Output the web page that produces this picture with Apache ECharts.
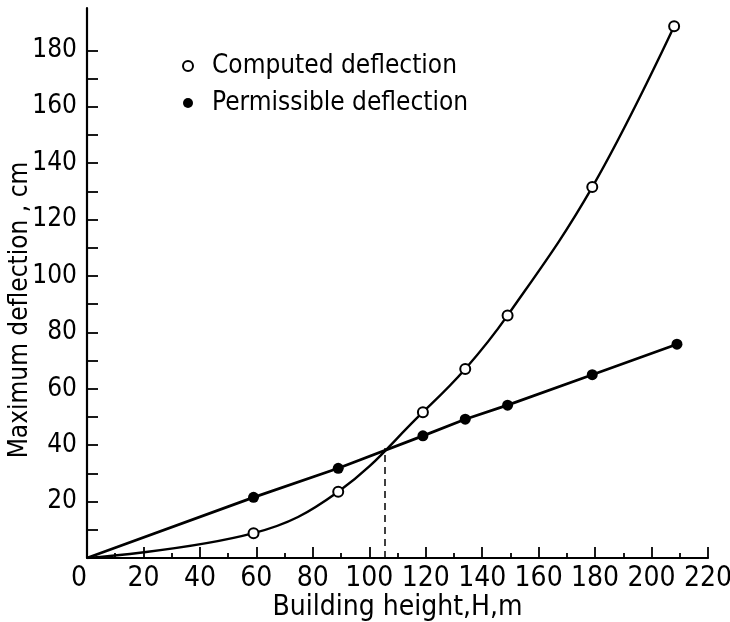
<!DOCTYPE html>
<html>
<head>
<meta charset="utf-8">
<script src="https://cdn.jsdelivr.net/npm/echarts@6/dist/echarts.min.js"></script>
<style>
html,body{margin:0;padding:0;background:#fff;}
#c{width:730px;height:622px;}
</style>
</head>
<body>
<div id="c"></div>
<script>
// Data
const computedX = [0, 59, 89, 119, 134, 149, 179, 208];
const computedY = [0, 8.8, 23.5, 51.7, 67, 86, 131.5, 188.5];
const computedMarked = [false, true, true, true, true, true, true, true];
const permissibleX = [0, 59, 89, 119, 134, 149, 179, 209];
const permissibleY = [0, 21.5, 31.8, 43.3, 49.2, 54.2, 65, 75.8];
const permissibleMarked = [false, true, true, true, true, true, true, true];
const crossX = 105.5;
const crossY = 39;
const xLabels = [0, 20, 40, 60, 80, 100, 120, 140, 160, 180, 200, 220];
const yLabels = [20, 40, 60, 80, 100, 120, 140, 160, 180];
const yTicks = [10, 20, 30, 40, 50, 60, 70, 80, 90, 100, 110, 120, 130, 140, 150, 160, 170, 180];

const FONT = "'DejaVu Sans Condensed', 'Liberation Sans Narrow', 'DejaVu Sans', sans-serif";

function buildData(xs, ys, marked) {
  return xs.map((x, i) => marked[i] ? [x, ys[i]] : { value: [x, ys[i]], symbol: 'none' });
}

const chart = echarts.init(document.getElementById('c'), null, { renderer: 'canvas' });
chart.setOption({
  animation: false,
  backgroundColor: '#fff',
  grid: { left: 87, right: 22, top: 8, bottom: 64, containLabel: false, outerBoundsMode: 'none' },
  legend: {
    orient: 'vertical',
    left: 182,
    top: 52,
    padding: 0,
    itemWidth: 10,
    itemHeight: 10,
    itemGap: 9,
    textStyle: { fontFamily: FONT, fontSize: 26, color: '#000', lineHeight: 28, padding: [0, 0, 0, 14] },
    data: [
      { name: 'Computed deflection', icon: 'emptyCircle', itemStyle: { color: '#000', borderColor: '#000', borderWidth: 1.5 } },
      { name: 'Permissible deflection', icon: 'circle', itemStyle: { color: '#000' } }
    ]
  },
  xAxis: {
    type: 'value',
    min: 0, max: 220, interval: 20,
    name: 'Building height,H,m',
    nameLocation: 'middle',
    nameGap: 36,
    nameMoveOverlap: false,
    nameTextStyle: { fontFamily: FONT, fontSize: 28, color: '#000' },
    axisLine: { lineStyle: { color: '#000', width: 2.2 } },
    axisTick: { inside: true, length: 11, lineStyle: { color: '#000', width: 1.8 } },
    minorTick: { show: true, splitNumber: 2, length: 5, lineStyle: { color: '#000', width: 1.8 } },
    splitLine: { show: false },
    axisLabel: {
      fontFamily: FONT, fontSize: 28, color: '#000', margin: 7,
      customValues: xLabels,
      alignMinLabel: 'right'
    }
  },
  yAxis: {
    type: 'value',
    min: 0, max: 195,
    name: 'Maximum deflection , cm',
    nameLocation: 'middle',
    nameGap: 54,
    nameMoveOverlap: false,
    nameTextStyle: { fontFamily: FONT, fontSize: 26, color: '#000', padding: [0, 54, 0, 0] },
    axisLine: { lineStyle: { color: '#000', width: 2.2 } },
    axisTick: { inside: true, length: 11, customValues: yTicks, lineStyle: { color: '#000', width: 1.8 } },
    splitLine: { show: false },
    axisLabel: { fontFamily: FONT, fontSize: 26, color: '#000', margin: 10, customValues: yLabels }
  },
  series: [
    {
      name: 'Computed deflection',
      type: 'line',
      smooth: 0.4,
      symbol: 'emptyCircle',
      symbolSize: 10,
      showAllSymbol: true,
      lineStyle: { color: '#000', width: 2.4 },
      itemStyle: { color: '#000', borderColor: '#000', borderWidth: 1.6 },
      data: buildData(computedX, computedY, computedMarked),
      z: 3,
      markLine: {
        silent: true,
        symbol: 'none',
        label: { show: false },
        lineStyle: { color: '#000', width: 1.5, type: [7, 5] },
        data: [[{ coord: [crossX, 0] }, { coord: [crossX, crossY] }]]
      }
    },
    {
      name: 'Permissible deflection',
      type: 'line',
      symbol: 'circle',
      symbolSize: 11,
      showAllSymbol: true,
      lineStyle: { color: '#000', width: 2.7 },
      itemStyle: { color: '#000' },
      data: buildData(permissibleX, permissibleY, permissibleMarked),
      z: 2
    }
  ]
});
</script>
</body>
</html>
